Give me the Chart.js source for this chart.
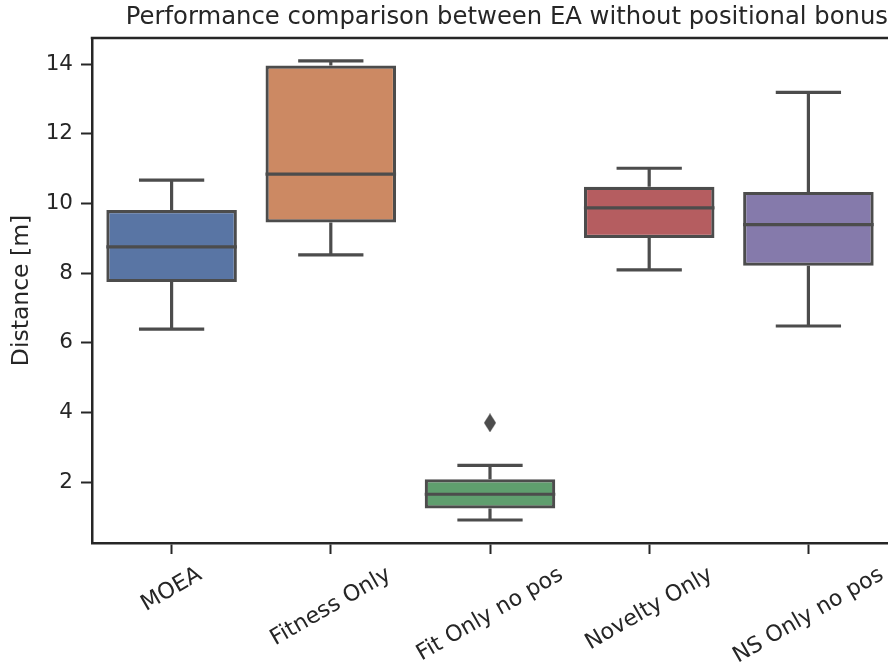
<!DOCTYPE html>
<html>
<head>
<meta charset="utf-8">
<script src="https://cdn.jsdelivr.net/npm/chart.js@4/dist/chart.umd.min.js"></script>
<style>
  html, body { margin: 0; padding: 0; background: #ffffff; }
  #wrap { width: 888px; height: 669px; }
</style>
</head>
<body>
<div id="wrap"><canvas id="c" width="888" height="669"></canvas></div>
<script>
// Distance reached per algorithm variant (five-number summaries, metres)
const categories  = ['MOEA', 'Fitness Only', 'Fit Only no pos', 'Novelty Only', 'NS Only no pos'];
const whiskerLow  = [6.39, 8.52, 0.91, 8.09, 6.48];
const quartile1   = [7.74, 9.45, 1.24, 9.01, 8.21];
const medians     = [8.75, 10.84, 1.65, 9.87, 9.39];
const quartile3   = [9.81, 13.96, 2.08, 10.48, 10.33];
const whiskerHigh = [10.67, 14.09, 2.48, 11.01, 13.19];
const outlierCats = ['Fit Only no pos'];
const outlierVals = [3.70];
const yTicks      = [2, 4, 6, 8, 10, 12, 14];

const boxColors = ['#5975a4', '#cc8963', '#5f9e6e', '#b55d60', '#857aab'];
const lineGray  = '#4c4c4c';
const inkColor  = '#262626';
const FONT = "'DejaVu Sans', sans-serif";
const tickFontSize = 21.5;
const catFontSize = 22.2;

Chart.defaults.font.family = FONT;

// thin diamond marker used for fliers
const diamond = document.createElement('canvas');
diamond.width = 12; diamond.height = 19;
(function () {
  const g = diamond.getContext('2d');
  g.fillStyle = lineGray;
  g.beginPath();
  g.moveTo(6, 0); g.lineTo(12, 9.5); g.lineTo(6, 19); g.lineTo(0, 9.5);
  g.closePath(); g.fill();
})();

// whiskers, caps, medians, frame top and rotated category labels
const boxExtras = {
  id: 'boxExtras',
  afterDatasetsDraw(chart) {
    const ctx = chart.ctx;
    const xs = chart.scales.x, ys = chart.scales.y;
    const meta = chart.getDatasetMeta(0);
    ctx.save();
    ctx.strokeStyle = lineGray;
    ctx.lineWidth = 3.2;
    ctx.lineCap = 'butt';
    categories.forEach((c, i) => {
      const x = xs.getPixelForValue(i);
      const bw = meta.data[i].width;
      const yLo = ys.getPixelForValue(whiskerLow[i]);
      const yQ1 = ys.getPixelForValue(quartile1[i]);
      const yMd = ys.getPixelForValue(medians[i]);
      const yQ3 = ys.getPixelForValue(quartile3[i]);
      const yHi = ys.getPixelForValue(whiskerHigh[i]);
      ctx.beginPath();
      ctx.moveTo(x, yQ3); ctx.lineTo(x, yHi);
      ctx.moveTo(x - bw / 4, yHi); ctx.lineTo(x + bw / 4, yHi);
      ctx.moveTo(x, yQ1); ctx.lineTo(x, yLo);
      ctx.moveTo(x - bw / 4, yLo); ctx.lineTo(x + bw / 4, yLo);
      ctx.moveTo(x - bw / 2, yMd); ctx.lineTo(x + bw / 2, yMd);
      ctx.stroke();
    });
    ctx.restore();
  },
  afterDraw(chart) {
    const ctx = chart.ctx;
    const area = chart.chartArea;
    const xs = chart.scales.x;
    ctx.save();
    // top spine
    ctx.strokeStyle = inkColor;
    ctx.lineWidth = 2.5;
    ctx.beginPath();
    ctx.moveTo(area.left - 1.25, area.top);
    ctx.lineTo(area.right, area.top);
    ctx.stroke();
    // rotated category labels, centred under each tick
    ctx.fillStyle = inkColor;
    ctx.font = catFontSize + 'px ' + FONT;
    ctx.textAlign = 'center';
    ctx.textBaseline = 'middle';
    const ang = 30 * Math.PI / 180;
    const top = area.bottom + 11 + 8;
    categories.forEach((label, i) => {
      const x = xs.getPixelForValue(i);
      const w = ctx.measureText(label).width;
      const h = catFontSize * 1.17;
      const H = w * Math.sin(ang) + h * Math.cos(ang);
      ctx.save();
      ctx.translate(x, top + H / 2);
      ctx.rotate(-ang);
      ctx.fillText(label, 0, 0);
      ctx.restore();
    });
    ctx.restore();
  }
};

new Chart(document.getElementById('c'), {
  type: 'bar',
  data: {
    labels: categories,
    datasets: [
      {
        label: 'Distance',
        data: categories.map((c, i) => [quartile1[i], quartile3[i]]),
        backgroundColor: boxColors,
        borderColor: lineGray,
        borderWidth: 3.2,
        borderSkipped: false,
        barPercentage: 0.82,
        categoryPercentage: 1.0
      },
      {
        type: 'line',
        label: 'Outliers',
        data: outlierCats.map((c, i) => ({ x: c, y: outlierVals[i] })),
        showLine: false,
        pointStyle: diamond,
        pointRadius: 9
      }
    ]
  },
  options: {
    responsive: false,
    animation: false,
    devicePixelRatio: 1,
    layout: { autoPadding: false, padding: { left: 0, right: 0, top: 0, bottom: 0 } },
    plugins: {
      legend: { display: false },
      tooltip: { enabled: false },
      title: {
        display: true,
        text: 'Performance comparison between EA without positional bonus',
        align: 'end',
        color: inkColor,
        font: { family: FONT, size: 24.3, weight: 'normal', lineHeight: 1.2 },
        padding: { top: 3, bottom: 5.8 }
      }
    },
    scales: {
      x: {
        type: 'category',
        offset: true,
        grid: {
          display: true, offset: false, drawOnChartArea: false, drawTicks: true,
          tickLength: 11, tickWidth: 2, tickColor: inkColor, color: inkColor
        },
        border: { display: true, color: inkColor, width: 2.5 },
        ticks: { display: false },
        afterFit(s) { s.height = 126; }
      },
      y: {
        min: 0.25,
        max: 14.75,
        afterBuildTicks(s) { s.ticks = yTicks.map(v => ({ value: v })); },
        grid: {
          display: true, drawOnChartArea: false, drawTicks: true,
          tickLength: 11, tickWidth: 2, tickColor: inkColor, color: inkColor
        },
        border: { display: true, color: inkColor, width: 2.5 },
        ticks: { color: inkColor, padding: 8, font: { family: FONT, size: tickFontSize } },
        title: {
          display: true,
          text: 'Distance [m]',
          color: inkColor,
          font: { family: FONT, size: 23.5, weight: 'normal' },
          padding: { top: 8, bottom: 0 }
        },
        afterFit(s) { s.width = 92; }
      }
    }
  },
  plugins: [boxExtras]
});
</script>
</body>
</html>
